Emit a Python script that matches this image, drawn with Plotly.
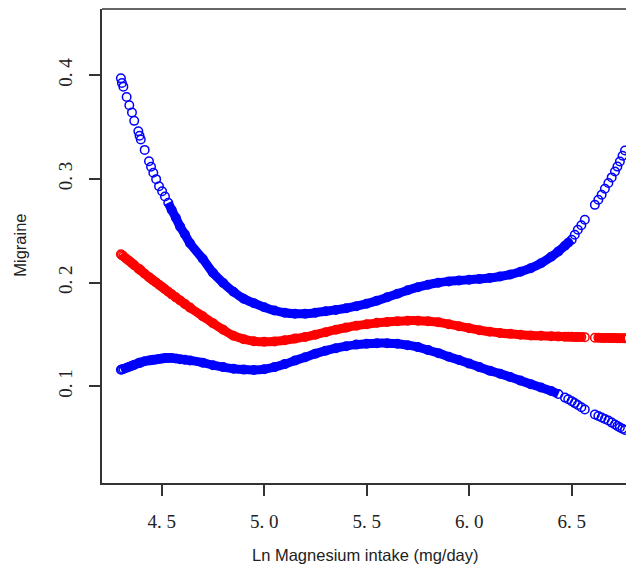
import plotly.graph_objects as go

# Ln magnesium intake (observation positions, sorted)
x_vals = [4.301, 4.306, 4.313, 4.329, 4.342, 4.355, 4.366, 4.386, 4.392, 4.398,
          4.417, 4.438, 4.448, 4.459, 4.473, 4.487, 4.502, 4.516, 4.532, 4.549,
          4.569, 4.590, 4.613, 4.638,
          4.70, 4.75, 4.80, 4.85, 4.90, 4.95, 5.00, 5.05, 5.10, 5.15,
          5.20, 5.25, 5.30, 5.35, 5.40, 5.45, 5.50, 5.55, 5.60, 5.65,
          5.70, 5.75, 5.80, 5.85, 5.90, 5.95, 6.00, 6.05, 6.10, 6.15,
          6.20, 6.25, 6.30, 6.35, 6.40,
          6.435, 6.467, 6.483, 6.500, 6.515, 6.530, 6.547, 6.564,
          6.613, 6.630, 6.646, 6.662, 6.679, 6.695, 6.711, 6.723, 6.735, 6.748, 6.760]

# Upper 95% CI
upper = [0.397, 0.3926, 0.389, 0.379, 0.371, 0.364, 0.356, 0.346, 0.3416, 0.338,
         0.328, 0.317, 0.3117, 0.306, 0.2998, 0.293, 0.2881, 0.283, 0.2770, 0.270,
         0.2625, 0.254, 0.2466, 0.238,
         0.2230, 0.2095, 0.1997, 0.1912, 0.1845, 0.1802, 0.1763, 0.1731, 0.1710, 0.1700,
         0.1700, 0.1710, 0.1724, 0.1737, 0.1753, 0.1773, 0.1797, 0.1826, 0.1859, 0.1893,
         0.1927, 0.1956, 0.1980, 0.1999, 0.2012, 0.2020, 0.2028, 0.2036, 0.2044, 0.2059,
         0.2078, 0.2105, 0.2139, 0.2187, 0.2250,
         0.2301, 0.2356, 0.2384, 0.2413, 0.2461, 0.2510, 0.2553, 0.2606,
         0.2750, 0.2799, 0.2847, 0.2905, 0.2960, 0.3015, 0.3071, 0.3119, 0.3168, 0.3223, 0.3274]

# Estimate
fit = [0.2274, 0.2265, 0.2255, 0.2228, 0.2208, 0.2187, 0.2169, 0.2137, 0.2128, 0.2118,
       0.2086, 0.2053, 0.2038, 0.2020, 0.2001, 0.1980, 0.1958, 0.1936, 0.1912, 0.1887,
       0.1858, 0.1828, 0.1795, 0.1759,
       0.1676, 0.1609, 0.1546, 0.1488, 0.1455, 0.1435, 0.1429, 0.1433, 0.1445, 0.1460,
       0.1476, 0.1498, 0.1522, 0.1546, 0.1566, 0.1585, 0.1599, 0.1612, 0.1621, 0.1628,
       0.1633, 0.1633, 0.1628, 0.1618, 0.1599, 0.1580, 0.1561, 0.1541, 0.1527, 0.1515,
       0.1506, 0.1498, 0.1491, 0.1487, 0.1483,
       0.1481, 0.1479, 0.1478, 0.1477, 0.1476, 0.1476, 0.1475, 0.1474,
       0.1469, 0.1468, 0.1467, 0.1466, 0.1466, 0.1465, 0.1465, 0.1464, 0.1464, 0.1464, 0.1464]

# Lower 95% CI
lower = [0.1159, 0.1163, 0.1167, 0.1179, 0.1189, 0.1198, 0.1207, 0.1222, 0.1226, 0.1230,
         0.1242, 0.1249, 0.1251, 0.1255, 0.1259, 0.1264, 0.1267, 0.1272, 0.1273, 0.1273,
         0.1268, 0.1262, 0.1256, 0.1250,
         0.1228, 0.1204, 0.1185, 0.1170, 0.1161, 0.1158, 0.1165, 0.1185, 0.1214, 0.1248,
         0.1281, 0.1315, 0.1344, 0.1368, 0.1387, 0.1402, 0.1411, 0.1416, 0.1416, 0.1411,
         0.1397, 0.1378, 0.1349, 0.1320, 0.1286, 0.1253, 0.1219, 0.1185, 0.1151, 0.1122,
         0.1089, 0.1055, 0.1021, 0.0988, 0.0954,
         0.0925, 0.0891, 0.0875, 0.0857, 0.0838, 0.0819, 0.0798, 0.0776,
         0.0728, 0.0713, 0.0699, 0.0684, 0.0670, 0.0650, 0.0632, 0.0617, 0.0603, 0.0590, 0.0579]

x_ticks = [4.5, 5.0, 5.5, 6.0, 6.5]
x_tick_text = ["4. 5", "5. 0", "5. 5", "6. 0", "6. 5"]
y_ticks = [0.1, 0.2, 0.3, 0.4]
y_tick_text = ["0. 1", "0. 2", "0. 3", "0. 4"]

gap_at = 6.59  # no observations around this value

BLUE = "#0000FF"
RED = "#FF0000"


def dense_segment(xs, ys, lo, hi):
    """Return the part of a curve where observations are dense, broken at the data gap."""
    sx, sy = [], []
    prev = None
    for xv, yv in zip(xs, ys):
        if lo <= xv <= hi:
            if prev is not None and prev < gap_at < xv:
                sx.append(None)
                sy.append(None)
            sx.append(xv)
            sy.append(yv)
            prev = xv
    return sx, sy


fig = go.Figure()

curves = [
    (upper, BLUE, 4.52, 6.50),
    (lower, BLUE, 4.30, 6.45),
    (fit, RED, 4.30, 6.80),
]

for ys, col, lo, hi in curves:
    sx, sy = dense_segment(x_vals, ys, lo, hi)
    fig.add_trace(go.Scatter(x=sx, y=sy, mode="lines",
                             line=dict(color=col, width=9, shape="spline", smoothing=0.8),
                             connectgaps=False, hoverinfo="skip", showlegend=False))
    fig.add_trace(go.Scatter(x=x_vals, y=ys, mode="markers",
                             marker=dict(symbol="circle-open", size=8.5, color=col,
                                         line=dict(color=col, width=1.5)),
                             showlegend=False))

fig.update_xaxes(range=[4.2088, 6.8039], showgrid=False, zeroline=False,
                 showline=True, linecolor="#333333", linewidth=1.5,
                 ticks="outside", ticklen=11, tickwidth=1.5, tickcolor="#333333",
                 tickvals=x_ticks, ticktext=x_tick_text, automargin=False,
                 tickfont=dict(family="Liberation Serif", size=19, color="#222222"),
                 ticklabelstandoff=9)
fig.update_yaxes(range=[0.00674, 0.4639], showgrid=False, zeroline=False,
                 showline=True, linecolor="#333333", linewidth=1.5,
                 ticks="outside", ticklen=11, tickwidth=1.5, tickcolor="#333333",
                 tickvals=y_ticks, ticktext=y_tick_text, tickangle=-90, automargin=False,
                 tickfont=dict(family="Liberation Serif", size=19, color="#222222"),
                 ticklabelstandoff=10)

fig.add_shape(type="line", xref="paper", yref="paper", x0=0, x1=1, y0=1, y1=1,
              line=dict(color="#333333", width=1.5))

fig.add_annotation(text="Migraine", xref="paper", yref="paper",
                   x=-0.1541, y=0.5005, xanchor="center", yanchor="middle",
                   textangle=-90, showarrow=False,
                   font=dict(family="Liberation Sans", size=16.5, color="#222222"))
fig.add_annotation(text="Ln Magnesium intake (mg/day)", xref="paper", yref="paper",
                   x=0.4944, y=-0.1528, xanchor="center", yanchor="middle",
                   showarrow=False,
                   font=dict(family="Liberation Sans", size=16.5, color="#222222"))

# The page places the figure 8 px in from the top-left corner, so the figure is
# sized to fill the rest of the 634x567 window.
fig.update_layout(width=626, height=559,
                  margin=dict(l=94, r=0, t=1, b=83.5, pad=0),
                  paper_bgcolor="white", plot_bgcolor="white",
                  showlegend=False)

fig.write_html("out.html")
